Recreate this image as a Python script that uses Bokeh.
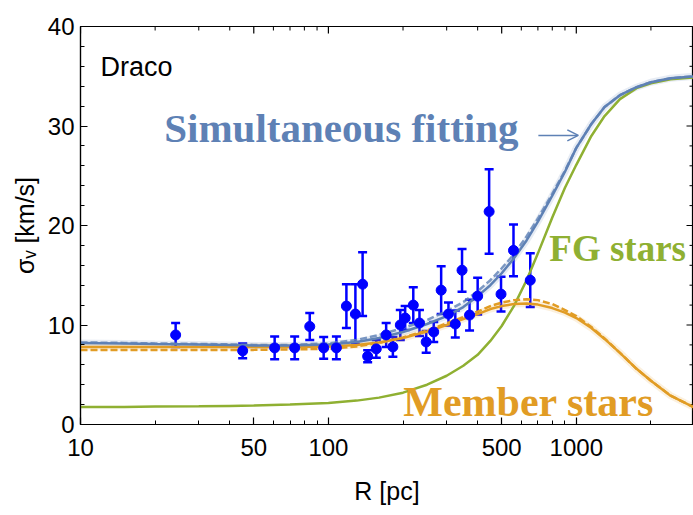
import numpy as np
from bokeh.plotting import figure
from bokeh.models import (Range1d, FixedTicker, Label, Arrow,
                          OpenHead, Whisker, TeeHead, ColumnDataSource)
from bokeh.embed import file_html
from bokeh.resources import INLINE

# ---------------- data ----------------
R_grid = [10, 15, 20, 30, 40, 50, 70, 100, 130, 160, 200, 250, 300, 350, 400, 450,
          500, 560, 630, 700, 800, 900, 1000, 1150, 1300, 1500, 1750, 2000, 2400, 3000]
sim_fit = [8.2, 8.15, 8.1, 8.05, 8.0, 7.95, 7.95, 8.05, 8.3, 8.7, 9.3, 10.1, 10.9, 11.8, 12.9, 14.0,
           15.2, 16.7, 18.5, 20.4, 23.0, 25.4, 27.8, 30.2, 31.9, 33.1, 33.9, 34.4, 34.8, 35.0]
sim_fit_dash = [8.25, 8.2, 8.15, 8.1, 8.05, 8.0, 8.0, 8.15, 8.5, 9.0, 9.7, 10.5, 11.4, 12.3, 13.4, 14.5,
                15.7, 17.1, 18.9, 20.7, 23.2, 25.5, 27.8, 30.2, 31.9, 33.1, 33.9, 34.4, 34.8, 35.0]
fg_stars = [1.75, 1.77, 1.8, 1.83, 1.87, 1.9, 2.0, 2.15, 2.4, 2.7, 3.2, 4.0, 4.9, 5.9, 7.0, 8.4,
            9.9, 11.9, 14.5, 17.2, 20.8, 23.8, 26.1, 29.0, 31.0, 32.7, 33.8, 34.3, 34.7, 34.9]
member = [7.8, 7.8, 7.8, 7.8, 7.8, 7.8, 7.8, 7.85, 8.0, 8.25, 8.7, 9.35, 10.0, 10.6, 11.1, 11.6,
          11.9, 12.1, 12.15, 12.05, 11.7, 11.25, 10.7, 9.7, 8.6, 7.2, 5.6, 4.4, 2.9, 1.7]
member_dash = [7.5, 7.5, 7.5, 7.5, 7.5, 7.5, 7.55, 7.6, 7.85, 8.2, 8.75, 9.45, 10.15, 10.8, 11.35, 11.9,
               12.25, 12.5, 12.6, 12.5, 12.1, 11.5, 10.9, 9.8, 8.65, 7.2, 5.6, 4.4, 2.9, 1.7]

obs_R = [24.2, 45.1, 60.7, 73.1, 84.1, 95.7, 107.7, 118.2, 128.5, 137.4, 144, 156, 171, 182, 195,
         204, 220, 233, 248, 266, 285, 305, 325, 346, 371, 400, 445, 497, 558, 652]
obs_sigma = [9.0, 7.4, 7.7, 7.7, 9.85, 7.7, 7.7, 11.9, 11.1, 14.1, 6.85, 7.6, 9.0, 7.8, 10.0,
             10.7, 12.0, 10.2, 8.3, 9.3, 13.5, 11.1, 10.1, 15.5, 11.0, 12.9, 21.4, 13.1, 17.5, 14.5]
obs_err = [1.2, 0.75, 1.15, 1.15, 1.35, 1.1, 1.15, 2.2, 3.0, 3.2, 0.6, 0.9, 1.2, 1.0, 1.5,
           1.2, 1.8, 1.3, 1.1, 1.0, 2.4, 1.15, 1.35, 2.15, 1.55, 1.85, 4.25, 1.75, 2.6, 2.7]

x_major = [10, 50, 100, 500, 1000]
x_major_labels = ["10", "50", "100", "500", "1000"]
x_minor = [20, 30, 40, 60, 70, 80, 90, 200, 300, 400, 600, 700, 800, 900, 2000, 3000]
y_major = [0, 10, 20, 30, 40]
y_minor = [2, 4, 6, 8, 12, 14, 16, 18, 22, 24, 26, 28, 32, 34, 36, 38]

X_MIN, X_MAX = 10, 2970
Y_MIN, Y_MAX = 0, 40

BLUE = "#5E81B5"
ORANGE = "#E19C24"
GREEN = "#8FB032"
PTS = "#0000FF"

# ---------------- figure ----------------
p = figure(width=693, height=515, x_axis_type="log",
           x_range=Range1d(X_MIN, X_MAX), y_range=Range1d(Y_MIN, Y_MAX),
           output_backend="svg", toolbar_location=None,
           min_border_left=80, min_border_right=0, min_border_top=26, min_border_bottom=91)
p.background_fill_color = "white"
p.border_fill_color = "white"
p.outline_line_color = "black"
p.outline_line_width = 1.2
p.xgrid.visible = False
p.ygrid.visible = False

def style_axis(ax):
    ax.axis_line_color = "black"
    ax.axis_line_width = 1.2
    ax.major_tick_in = 7
    ax.major_tick_out = 0
    ax.minor_tick_in = 4
    ax.minor_tick_out = 0
    ax.major_tick_line_color = "black"
    ax.minor_tick_line_color = "black"
    ax.major_tick_line_width = 1.2
    ax.minor_tick_line_width = 1.0
    ax.major_label_text_font = "Liberation Sans"
    ax.major_label_text_font_size = "24px"
    ax.major_label_text_color = "black"
    ax.axis_label_text_font = "Liberation Sans, DejaVu Sans"
    ax.axis_label_text_font_size = "25px"
    ax.axis_label_text_font_style = "normal"
    ax.axis_label_text_color = "black"

xa = p.xaxis[0]
xa.ticker = FixedTicker(ticks=x_major, minor_ticks=x_minor)
xa.major_label_overrides = {v: s for v, s in zip(x_major, x_major_labels)}
xa.axis_label = "R [pc]"
style_axis(xa)
xa.major_label_standoff = 14
xa.axis_label_standoff = 18

ya = p.yaxis[0]
ya.ticker = FixedTicker(ticks=y_major, minor_ticks=y_minor)
ya.axis_label = "σᵥ [km/s]"
style_axis(ya)
ya.major_label_standoff = 6
ya.axis_label_standoff = 6

# mirrored inward ticks on the top and right frame edges (no labels)
px_per_y = 398 / (Y_MAX - Y_MIN)
px_per_dec = 613 / np.log10(X_MAX / X_MIN)
p.segment(x0=x_major, x1=x_major, y0=[Y_MAX] * len(x_major),
          y1=[Y_MAX - 7 / px_per_y] * len(x_major), line_color="black", line_width=1.2)
p.segment(x0=x_minor, x1=x_minor, y0=[Y_MAX] * len(x_minor),
          y1=[Y_MAX - 4 / px_per_y] * len(x_minor), line_color="black", line_width=1.0)
p.segment(x0=[X_MAX] * len(y_major), x1=[X_MAX / 10 ** (7 / px_per_dec)] * len(y_major),
          y0=y_major, y1=y_major, line_color="black", line_width=1.2)
p.segment(x0=[X_MAX] * len(y_minor), x1=[X_MAX / 10 ** (4 / px_per_dec)] * len(y_minor),
          y0=y_minor, y1=y_minor, line_color="black", line_width=1.0)

# ---------------- curves ----------------
p.line(R_grid, sim_fit, line_color=BLUE, line_width=7, line_alpha=0.15)
p.line(R_grid, member, line_color=ORANGE, line_width=7, line_alpha=0.15)
p.line(R_grid, fg_stars, line_color=GREEN, line_width=2.5)
p.line(R_grid, member, line_color=ORANGE, line_width=2.5)
p.line(R_grid, member_dash, line_color=ORANGE, line_width=2.5, line_dash="7 3")
p.line(R_grid, sim_fit, line_color=BLUE, line_width=2.5)
p.line(R_grid, sim_fit_dash, line_color=BLUE, line_width=2.5, line_dash="7 3", line_alpha=0.8)

# ---------------- data points ----------------
src = ColumnDataSource(dict(
    R=obs_R, s=obs_sigma,
    up=[s + e for s, e in zip(obs_sigma, obs_err)],
    lo=[s - e for s, e in zip(obs_sigma, obs_err)],
))
w = Whisker(source=src, base="R", upper="up", lower="lo", line_color=PTS, line_width=2.5,
            upper_head=TeeHead(size=9, line_color=PTS, line_width=2.5),
            lower_head=TeeHead(size=9, line_color=PTS, line_width=2.5))
p.add_layout(w)
p.scatter("R", "s", source=src, size=10, fill_color=PTS, line_color=PTS)

# ---------------- annotations ----------------
p.add_layout(Label(x=12.04, y=35.9, text="Draco", text_font="Liberation Sans",
                   text_font_size="27px", text_color="black", text_baseline="alphabetic"))
p.add_layout(Label(x=112.8, y=29.75, text="Simultaneous fitting", text_font="Liberation Serif",
                   text_font_style="bold", text_font_size="41px", text_color=BLUE,
                   text_align="center", text_baseline="alphabetic"))
p.add_layout(Arrow(x_start=703, y_start=29.05, x_end=1019, y_end=29.05,
                   line_color=BLUE, line_width=1.5,
                   end=OpenHead(size=11, line_color=BLUE, line_width=1.5)))
p.add_layout(Label(x=778, y=17.7, text="FG stars", text_font="Liberation Serif",
                   text_font_style="bold", text_font_size="37px", text_color=GREEN,
                   text_baseline="alphabetic"))
p.add_layout(Label(x=200.5, y=2.3, text="Member stars", text_font="Liberation Serif",
                   text_font_style="bold", text_font_size="42px", text_color=ORANGE,
                   text_baseline="alphabetic"))

open("out.html", "w").write(file_html(p, INLINE))
